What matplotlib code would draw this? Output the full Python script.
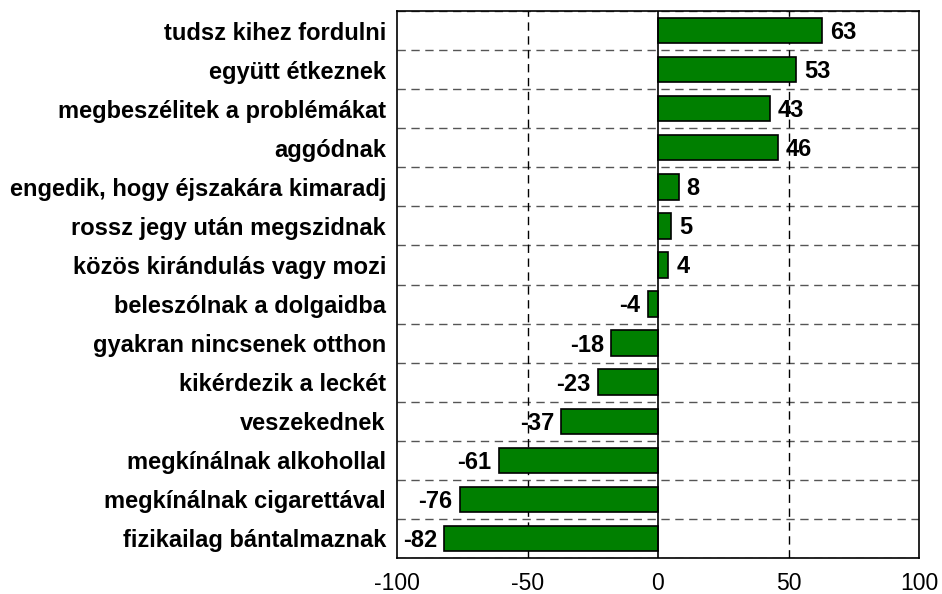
import matplotlib
matplotlib.use("Agg")
import matplotlib.pyplot as plt
import numpy as np

categories = [
    "tudsz kihez fordulni",
    "együtt étkeznek",
    "megbeszélitek a problémákat",
    "aggódnak",
    "engedik, hogy éjszakára kimaradj",
    "rossz jegy után megszidnak",
    "közös kirándulás vagy mozi",
    "beleszólnak a dolgaidba",
    "gyakran nincsenek otthon",
    "kikérdezik a leckét",
    "veszekednek",
    "megkínálnak alkohollal",
    "megkínálnak cigarettával",
    "fizikailag bántalmaznak",
]
values = [63, 53, 43, 46, 8, 5, 4, -4, -18, -23, -37, -61, -76, -82]
xticks = [-100, -50, 0, 50, 100]

plt.rcParams['font.family'] = ['Liberation Sans', 'DejaVu Sans']

fig = plt.figure(figsize=(9.42, 5.94), dpi=100)
ax = fig.add_axes([397/942, 36/594, 522/942, 547/594])

y = np.arange(len(categories))
ax.barh(y, values, height=0.65, color="#007f00", edgecolor="black", linewidth=1.2, zorder=3)

ax.set_xlim(-100, 100)
ax.set_ylim(len(categories) - 0.5, -0.5)
ax.set_yticks(y)
ax.set_yticklabels(categories, fontsize=17, fontweight="bold")
ax.set_xticks(xticks)
ax.set_xticklabels([str(t) for t in xticks], fontsize=16.5)
ax.tick_params(axis="y", length=0, pad=8)
ax.tick_params(axis="x", length=0, pad=10)

# grid lines
for b in np.arange(-0.5, len(categories) + 0.5, 1.0):
    ax.axhline(b, color="#555555", linestyle=(0, (6, 4)), linewidth=1.0, zorder=1)
for xv in [-50, 50]:
    ax.axvline(xv, color="black", linestyle=(0, (6, 4)), linewidth=1.0, zorder=1)
ax.axvline(0, color="black", linewidth=1.2, zorder=4)

for s in ax.spines.values():
    s.set_linewidth(1.2)
    s.set_zorder(5)

for yi, v in zip(y, values):
    if v >= 0:
        ax.text(v + 3, yi + 0.05, str(v), ha="left", va="center", fontsize=17, fontweight="bold", zorder=6)
    else:
        ax.text(v - 2.7, yi + 0.05, str(v), ha="right", va="center", fontsize=17, fontweight="bold", zorder=6)

fig.savefig("out.png", dpi=100)
